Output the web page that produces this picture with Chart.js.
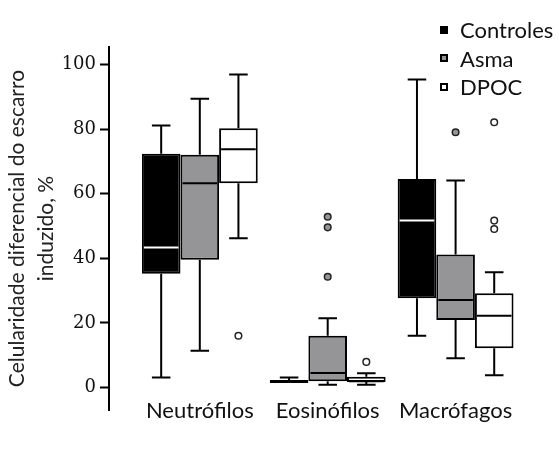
<!DOCTYPE html>
<html lang="pt">
<head>
<meta charset="UTF-8">
<title>Celularidade diferencial do escarro induzido</title>
<script src="https://cdn.jsdelivr.net/npm/chart.js"></script>
<style>
  body { margin: 0; background: #fff; }
  .wrap { position: relative; width: 559px; height: 470px; }
  .legend { position: absolute; left: 440px; top: 15.5px; font-family: Lato, sans-serif; font-size: 22px; color: #111; }
  .legend div { height: 28.5px; display: flex; align-items: center; }
  .legend .sw { width: 4px; height: 4px; border: 2px solid #000; margin-right: 12px; }
</style>
</head>
<body>
<div class="wrap">
  <canvas id="boxChart" width="559" height="470"></canvas>
  <div class="legend" id="legend"></div>
</div>
<script>
// cell types on the x axis
const categories = ['Neutrófilos', 'Eosinófilos', 'Macrófagos'];
const groups = ['Controles', 'Asma', 'DPOC'];
const yTicks = [0, 20, 40, 60, 80, 100];

// box plot values (%)
const controlesMin = [3.1, 1.9, 16.0];
const controlesQ1 = [35.2, 1.4, 27.6];
const controlesMedian = [43.4, 1.9, 51.7];
const controlesQ3 = [72.4, 2.3, 64.6];
const controlesMax = [81.2, 3.1, 95.4];
const controlesOutliers = [[], [], []];

const asmaMin = [11.4, 0.8, 9.0];
const asmaQ1 = [39.6, 1.9, 20.9];
const asmaMedian = [63.3, 4.5, 27.1];
const asmaQ3 = [72.1, 16.0, 41.2];
const asmaMax = [89.5, 21.4, 64.1];
const asmaOutliers = [[], [52.9, 49.6, 34.3], [79.1]];

const dpocMin = [46.2, 0.8, 3.8];
const dpocQ1 = [63.3, 1.7, 12.1];
const dpocMedian = [73.8, 1.9, 22.2];
const dpocQ3 = [80.3, 3.3, 29.2];
const dpocMax = [97.0, 4.4, 35.7];
const dpocOutliers = [[16.0], [7.9], [82.2, 51.7, 49.1]];

const fills = ['#000000', '#959597', '#ffffff'];
const medianColors = ['#ffffff', '#000000', '#000000'];
const outlierFills = ['#000000', '#959597', '#ffffff'];

const stats = [
    { min: controlesMin, q1: controlesQ1, median: controlesMedian, q3: controlesQ3, max: controlesMax, out: controlesOutliers },
    { min: asmaMin, q1: asmaQ1, median: asmaMedian, q3: asmaQ3, max: asmaMax, out: asmaOutliers },
    { min: dpocMin, q1: dpocQ1, median: dpocMedian, q3: dpocQ3, max: dpocMax, out: dpocOutliers }
];

// whiskers, medians and outliers on top of the floating bars
const boxParts = {
    id: 'boxParts',
    beforeDatasetsDraw(chart) {
        const ctx = chart.ctx;
        const y = chart.scales.y;
        ctx.save();
        ctx.strokeStyle = '#000';
        ctx.lineWidth = 2;
        stats.forEach((s, d) => {
            chart.getDatasetMeta(d).data.forEach((el, i) => {
                const cap = el.width * 0.24;
                [[s.q3[i], s.max[i]], [s.q1[i], s.min[i]]].forEach(([from, to]) => {
                    ctx.beginPath();
                    ctx.moveTo(el.x, y.getPixelForValue(from));
                    ctx.lineTo(el.x, y.getPixelForValue(to));
                    ctx.moveTo(el.x - cap, y.getPixelForValue(to));
                    ctx.lineTo(el.x + cap, y.getPixelForValue(to));
                    ctx.stroke();
                });
            });
        });
        ctx.restore();
    },
    afterDatasetsDraw(chart) {
        const ctx = chart.ctx;
        const y = chart.scales.y;
        ctx.save();
        stats.forEach((s, d) => {
            chart.getDatasetMeta(d).data.forEach((el, i) => {
                const half = el.width / 2 - 2;
                const my = y.getPixelForValue(s.median[i]);
                // a flat box (height under 4px) is just its outline, no median stroke
                if (Math.abs(y.getPixelForValue(s.q1[i]) - y.getPixelForValue(s.q3[i])) > 4) {
                    ctx.strokeStyle = medianColors[d];
                    ctx.lineWidth = 2;
                    ctx.beginPath();
                    ctx.moveTo(el.x - half, my);
                    ctx.lineTo(el.x + half, my);
                    ctx.stroke();
                }
                s.out[i].forEach(v => {
                    ctx.beginPath();
                    ctx.arc(el.x, y.getPixelForValue(v), 3.3, 0, Math.PI * 2);
                    ctx.fillStyle = outlierFills[d];
                    ctx.fill();
                    ctx.lineWidth = 1.5;
                    ctx.strokeStyle = '#222';
                    ctx.stroke();
                });
            });
        });
        ctx.restore();
    }
};

const datasets = stats.map((s, d) => ({
    label: groups[d],
    data: categories.map((c, i) => ({ x: i, y: [s.q1[i], s.q3[i]] })),
    backgroundColor: fills[d],
    borderColor: '#000',
    borderWidth: 2,
    borderSkipped: false,
    categoryPercentage: 0.906,
    barPercentage: 1
}));

new Chart(document.getElementById('boxChart'), {
    type: 'bar',
    data: { datasets },
    plugins: [boxParts],
    options: {
        responsive: false,
        animation: false,
        layout: { padding: { top: 47, right: 19, left: 0, bottom: 0 } },
        plugins: { legend: { display: false }, tooltip: { enabled: false } },
        scales: {
            x: {
                type: 'linear',
                offset: false,
                min: -0.71,
                max: 2.66,
                afterBuildTicks: scale => { scale.ticks = categories.map((c, i) => ({ value: i })); },
                afterFit: scale => { scale.height = 60; },
                ticks: {
                    autoSkip: false,
                    maxRotation: 0,
                    mirror: true,
                    padding: -14,
                    color: '#111',
                    font: { family: 'Lato', size: 22 },
                    callback: v => categories[v]
                },
                grid: { display: false, drawTicks: false },
                border: { display: false }
            },
            y: {
                min: -7,
                max: 105.5,
                afterBuildTicks: scale => { scale.ticks = yTicks.map(v => ({ value: v })); },
                afterFit: scale => { scale.width = 109; },
                ticks: {
                    padding: 4,
                    color: '#111',
                    font: { family: 'DejaVu Serif', size: 18 }
                },
                grid: { drawOnChartArea: false, drawTicks: true, tickLength: 9, tickWidth: 2, tickColor: '#000' },
                border: { display: true, color: '#000', width: 2 },
                title: {
                    display: true,
                    text: ['Celularidade diferencial do escarro', 'induzido, %'],
                    color: '#222',
                    font: { family: 'Lato', size: 21, lineHeight: 1.38 },
                    padding: { top: 3, bottom: 0 }
                }
            }
        }
    }
});

// legend as html, same order and swatches as the datasets
const legend = document.getElementById('legend');
groups.forEach((g, d) => {
    const row = document.createElement('div');
    row.innerHTML = `<span class="sw" style="background:${fills[d]}"></span>${g}`;
    legend.appendChild(row);
});
</script>
</body>
</html>
